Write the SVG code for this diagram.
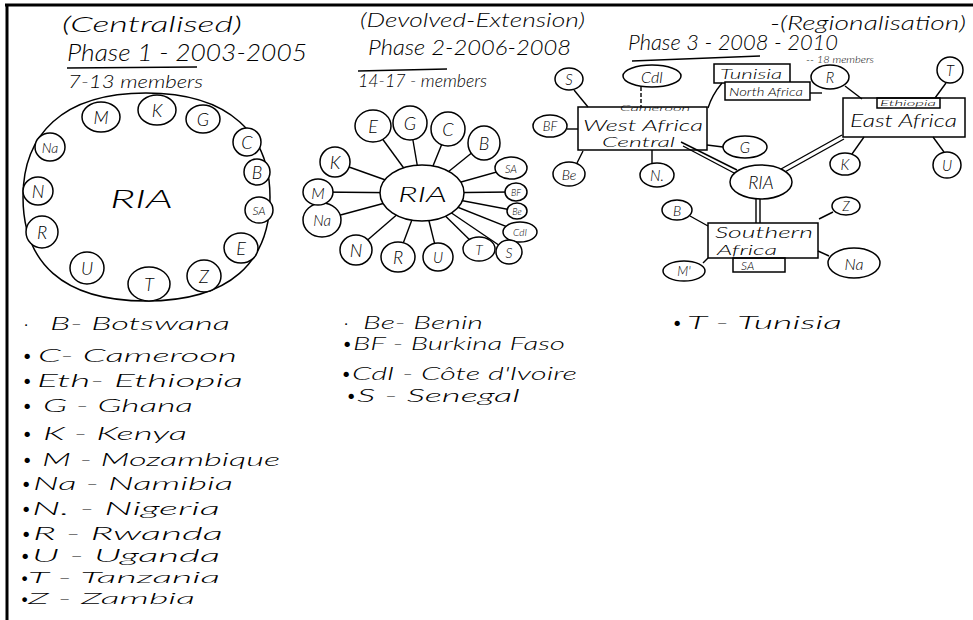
<svg xmlns="http://www.w3.org/2000/svg" width="973" height="620" viewBox="0 0 973 620">
<style>
text{font-family:Lato,"Liberation Sans",sans-serif;font-style:italic;font-weight:300;fill:#000}
.n{fill:#fff;stroke:#000;stroke-width:1.5}
.b{fill:none;stroke:#000;stroke-width:1.5}
.c{fill:none;stroke:#000;stroke-width:1.4}
.l{text-anchor:middle;dominant-baseline:central}
.h{font-size:22px}
.s{font-size:17px}
.g{font-size:18px}
.sm{font-size:16px}
</style>
<rect width="973" height="620" fill="#fff"/>
<g id="frame"><line x1="5" y1="5" x2="973" y2="5" stroke="#000" stroke-width="3"/><line x1="7" y1="4" x2="7" y2="620" stroke="#000" stroke-width="3"/></g>

<g id="headings">
<text x="62" y="32" class="h" textLength="180" lengthAdjust="spacingAndGlyphs">(Centralised)</text>
<text x="67" y="61" style="font-size:24px" textLength="240" lengthAdjust="spacingAndGlyphs">Phase 1 - 2003-2005</text>
<line x1="67" y1="68" x2="197" y2="67" class="c"/>
<text x="68" y="88" class="s" textLength="135" lengthAdjust="spacingAndGlyphs">7-13 members</text>
<text x="360" y="27" style="font-size:19px" textLength="225" lengthAdjust="spacingAndGlyphs">(Devolved-Extension)</text>
<text x="368" y="55" style="font-size:21px" textLength="203" lengthAdjust="spacingAndGlyphs">Phase 2-2006-2008</text>
<line x1="358" y1="71" x2="447" y2="69" class="c"/>
<text x="358" y="87" class="s" textLength="129" lengthAdjust="spacingAndGlyphs">14-17 - members</text>
<text x="770" y="30" style="font-size:20px" textLength="196" lengthAdjust="spacingAndGlyphs">-(Regionalisation)</text>
<text x="628" y="50" style="font-size:21px" textLength="210" lengthAdjust="spacingAndGlyphs">Phase 3 - 2008 - 2010</text>
<line x1="632" y1="61" x2="760" y2="56" class="c"/>
<text x="806" y="63" style="font-size:10px" textLength="68" lengthAdjust="spacingAndGlyphs">-- 18 members</text>
</g>

<g id="connectors">
<line x1="422" y1="193" x2="373" y2="126" class="c"/>
<line x1="422" y1="193" x2="410" y2="123" class="c"/>
<line x1="422" y1="193" x2="448" y2="129" class="c"/>
<line x1="422" y1="193" x2="484" y2="143" class="c"/>
<line x1="422" y1="193" x2="511" y2="168" class="c"/>
<line x1="422" y1="193" x2="516" y2="192" class="c"/>
<line x1="422" y1="193" x2="517" y2="211" class="c"/>
<line x1="422" y1="193" x2="520" y2="232" class="c"/>
<line x1="422" y1="193" x2="509" y2="252" class="c"/>
<line x1="422" y1="193" x2="479" y2="249" class="c"/>
<line x1="422" y1="193" x2="438" y2="257" class="c"/>
<line x1="422" y1="193" x2="398" y2="257" class="c"/>
<line x1="422" y1="193" x2="356" y2="250" class="c"/>
<line x1="422" y1="193" x2="322" y2="220" class="c"/>
<line x1="422" y1="193" x2="318" y2="192" class="c"/>
<line x1="422" y1="193" x2="335" y2="162" class="c"/>
<line x1="574" y1="90" x2="588" y2="107" class="c"/>
<line x1="641" y1="87" x2="641" y2="107" class="c" stroke-dasharray="4 2"/>
<path d="M722,83 Q712,95 708,108" class="c"/>
<line x1="567" y1="129" x2="578" y2="129" class="c"/>
<line x1="577" y1="163" x2="583" y2="151" class="c"/>
<line x1="652" y1="150" x2="652" y2="163" class="c"/>
<line x1="707" y1="145" x2="723" y2="147" class="c"/>
<line x1="681" y1="142" x2="737" y2="170" class="c"/>
<line x1="683" y1="146" x2="736" y2="174" class="c"/>
<line x1="842" y1="135" x2="781" y2="169" class="c"/>
<line x1="844" y1="139" x2="783" y2="173" class="c"/>
<line x1="756" y1="199" x2="756" y2="223" class="c"/>
<line x1="760" y1="199" x2="760" y2="223" class="c"/>
<line x1="845" y1="86" x2="862" y2="99" class="c"/>
<line x1="946" y1="83" x2="935" y2="98" class="c"/>
<line x1="864" y1="137" x2="852" y2="154" class="c"/>
<line x1="933" y1="137" x2="944" y2="152" class="c"/>
<line x1="690" y1="216" x2="708" y2="226" class="c"/>
<line x1="833" y1="212" x2="819" y2="219" class="c"/>
<line x1="703" y1="263" x2="708" y2="258" class="c"/>
<line x1="829" y1="256" x2="818" y2="251" class="c"/>
<line x1="810" y1="93" x2="822" y2="93" class="c"/>
</g>

<g id="phase1">
<path id="p1-ria" d="M146,93 C230,93 270,135 270,197 C270,262 230,301 146,301 C62,301 23,262 23,197 C23,135 62,93 146,93 Z" class="b"/>
<text x="110" y="208" style="font-size:26px" textLength="63" lengthAdjust="spacingAndGlyphs">RIA</text>
<g id="p1-M"><ellipse cx="101" cy="117" rx="19" ry="15" class="n"/><text x="101" y="117" class="l g">M</text></g>
<g id="p1-K"><ellipse cx="157" cy="110" rx="19" ry="15" class="n"/><text x="157" y="110" class="l g">K</text></g>
<g id="p1-G"><ellipse cx="203" cy="119" rx="17" ry="14" class="n"/><text x="203" y="119" class="l g">G</text></g>
<g id="p1-C"><ellipse cx="247" cy="142" rx="14" ry="14" class="n"/><text x="247" y="142" class="l g">C</text></g>
<g id="p1-B"><ellipse cx="257" cy="172" rx="13" ry="13" class="n"/><text x="257" y="172" class="l g">B</text></g>
<g id="p1-SA"><ellipse cx="259" cy="210" rx="14" ry="13" class="n"/><text x="259" y="210" class="l" style="font-size:12px">SA</text></g>
<g id="p1-E"><ellipse cx="241" cy="248" rx="17" ry="15" class="n"/><text x="241" y="248" class="l g">E</text></g>
<g id="p1-Z"><ellipse cx="204" cy="276" rx="17" ry="16" class="n"/><text x="204" y="276" class="l g">Z</text></g>
<g id="p1-T"><ellipse cx="149" cy="284" rx="21" ry="17" class="n"/><text x="149" y="284" class="l g">T</text></g>
<g id="p1-U"><ellipse cx="87" cy="268" rx="17" ry="16" class="n"/><text x="87" y="268" class="l g">U</text></g>
<g id="p1-R"><ellipse cx="42" cy="232" rx="16" ry="16" class="n"/><text x="42" y="232" class="l g">R</text></g>
<g id="p1-N"><ellipse cx="38" cy="191" rx="15" ry="14" class="n"/><text x="38" y="191" class="l g">N</text></g>
<g id="p1-Na"><ellipse cx="50" cy="147" rx="15" ry="14" class="n"/><text x="50" y="147" class="l" style="font-size:14px">Na</text></g>
</g>

<g id="phase2">
<g id="p2-RIA"><ellipse cx="422" cy="193" rx="42" ry="28" class="n"/><text x="398" y="202" style="font-size:22px" textLength="49" lengthAdjust="spacingAndGlyphs">RIA</text></g>
<g id="p2-E"><ellipse cx="373" cy="126" rx="18" ry="16" class="n"/><text x="373" y="126" class="l g">E</text></g>
<g id="p2-G"><ellipse cx="410" cy="123" rx="17" ry="17" class="n"/><text x="410" y="123" class="l g">G</text></g>
<g id="p2-C"><ellipse cx="448" cy="129" rx="17" ry="17" class="n"/><text x="448" y="129" class="l g">C</text></g>
<g id="p2-B"><ellipse cx="484" cy="143" rx="16" ry="17" class="n"/><text x="484" y="143" class="l g">B</text></g>
<g id="p2-SA"><ellipse cx="511" cy="168" rx="16" ry="11" class="n"/><text x="511" y="168" class="l" style="font-size:11px">SA</text></g>
<g id="p2-BF"><ellipse cx="516" cy="192" rx="11" ry="9" class="n"/><text x="516" y="192" class="l" style="font-size:9px">BF</text></g>
<g id="p2-Be"><ellipse cx="517" cy="211" rx="10" ry="8" class="n"/><text x="517" y="211" class="l" style="font-size:9px">Be</text></g>
<g id="p2-CdI"><ellipse cx="520" cy="232" rx="17" ry="10" class="n"/><text x="520" y="232" class="l" style="font-size:10px">CdI</text></g>
<g id="p2-S"><ellipse cx="509" cy="252" rx="13" ry="12" class="n"/><text x="509" y="252" class="l" style="font-size:14px">S</text></g>
<g id="p2-T"><ellipse cx="479" cy="249" rx="16" ry="12" class="n"/><text x="479" y="249" class="l" style="font-size:14px">T</text></g>
<g id="p2-U"><ellipse cx="438" cy="257" rx="15" ry="14" class="n"/><text x="438" y="257" class="l" style="font-size:15px">U</text></g>
<g id="p2-R"><ellipse cx="398" cy="257" rx="17" ry="15" class="n"/><text x="398" y="257" class="l g">R</text></g>
<g id="p2-N"><ellipse cx="356" cy="250" rx="16" ry="15" class="n"/><text x="356" y="250" class="l g">N</text></g>
<g id="p2-Na"><ellipse cx="322" cy="220" rx="19" ry="17" class="n"/><text x="322" y="220" class="l" style="font-size:15px">Na</text></g>
<g id="p2-M"><ellipse cx="318" cy="192" rx="15" ry="13" class="n"/><text x="318" y="192" class="l" style="font-size:16px">M</text></g>
<g id="p2-K"><ellipse cx="335" cy="162" rx="15" ry="15" class="n"/><text x="335" y="162" class="l g">K</text></g>
</g>

<g id="phase3">
<g id="p3-S"><ellipse cx="569" cy="79" rx="14" ry="11" class="n"/><text x="569" y="79" class="l" style="font-size:15px">S</text></g>
<g id="p3-CdI"><ellipse cx="652" cy="76" rx="29" ry="11" class="n"/><text x="652" y="76" class="l" style="font-size:16px">CdI</text></g>
<g id="p3-NorthAfrica"><rect x="714" y="64" width="76" height="19" class="b"/><rect x="725" y="82" width="85" height="18" class="n"/><text x="720" y="79" style="font-size:14px" textLength="62" lengthAdjust="spacingAndGlyphs">Tunisia</text><text x="729" y="96" style="font-size:12px" textLength="74" lengthAdjust="spacingAndGlyphs">North Africa</text></g>
<g id="p3-R"><ellipse cx="830" cy="77" rx="19" ry="12" class="n"/><text x="830" y="77" class="l" style="font-size:15px">R</text></g>
<g id="p3-T"><ellipse cx="950" cy="70" rx="13" ry="13" class="n"/><text x="950" y="70" class="l" style="font-size:15px">T</text></g>
<g id="p3-WestAfrica"><rect x="578" y="107" width="129" height="43" class="b"/><text x="620" y="111" style="font-size:8px" textLength="70" lengthAdjust="spacingAndGlyphs">Cameroon</text><text x="583" y="131" style="font-size:16px" textLength="120" lengthAdjust="spacingAndGlyphs">West Africa</text><text x="602" y="147" style="font-size:14px" textLength="73" lengthAdjust="spacingAndGlyphs">Central</text></g>
<g id="p3-BF"><ellipse cx="550" cy="126" rx="17" ry="11" class="n"/><text x="550" y="126" class="l" style="font-size:13px">BF</text></g>
<g id="p3-Be"><ellipse cx="569" cy="174" rx="16" ry="12" class="n"/><text x="569" y="174" class="l" style="font-size:14px">Be</text></g>
<g id="p3-N"><ellipse cx="657" cy="175" rx="17" ry="12" class="n"/><text x="657" y="175" class="l" style="font-size:15px">N.</text></g>
<g id="p3-G"><ellipse cx="745" cy="147" rx="22" ry="11" class="n"/><text x="745" y="147" class="l" style="font-size:15px">G</text></g>
<g id="p3-RIA"><ellipse cx="761" cy="182" rx="31" ry="17" class="n"/><text x="761" y="182" class="l" style="font-size:18px">RIA</text></g>
<g id="p3-EastAfrica"><rect x="843" y="98" width="122" height="39" class="b"/><rect x="877" y="98" width="63" height="10" class="b"/><text x="880" y="106" style="font-size:8px" textLength="56" lengthAdjust="spacingAndGlyphs">Ethiopia</text><text x="850" y="127" style="font-size:17px" textLength="107" lengthAdjust="spacingAndGlyphs">East Africa</text></g>
<g id="p3-K"><ellipse cx="845" cy="164" rx="15" ry="11" class="n"/><text x="845" y="164" class="l" style="font-size:15px">K</text></g>
<g id="p3-U"><ellipse cx="947" cy="165" rx="14" ry="13" class="n"/><text x="947" y="165" class="l" style="font-size:15px">U</text></g>
<g id="p3-Southern"><rect x="708" y="223" width="110" height="35" class="b"/><rect x="733" y="258" width="52" height="14" class="b"/><text x="715" y="238" style="font-size:16px" textLength="98" lengthAdjust="spacingAndGlyphs">Southern</text><text x="717" y="255" style="font-size:14px" textLength="60" lengthAdjust="spacingAndGlyphs">Africa</text><text x="741" y="270" style="font-size:12px">SA</text></g>
<g id="p3-B"><ellipse cx="677" cy="210" rx="15" ry="10" class="n"/><text x="677" y="210" class="l" style="font-size:14px">B</text></g>
<g id="p3-Z"><ellipse cx="846" cy="206" rx="14" ry="9" class="n"/><text x="846" y="206" class="l" style="font-size:13px">Z</text></g>
<g id="p3-M"><ellipse cx="684" cy="271" rx="21" ry="10" class="n"/><text x="684" y="271" class="l" style="font-size:13px">M'</text></g>
<g id="p3-Na"><ellipse cx="854" cy="263" rx="26" ry="15" class="n"/><text x="854" y="263" class="l" style="font-size:16px">Na</text></g>
</g>

<g id="legend" class="g">
<text x="24" y="330">·</text><text x="50" y="330" textLength="180" lengthAdjust="spacingAndGlyphs">B- Botswana</text>
<text x="22" y="362">•</text><text x="38" y="362" textLength="199" lengthAdjust="spacingAndGlyphs">C- Cameroon</text>
<text x="22" y="387">•</text><text x="37" y="387" textLength="206" lengthAdjust="spacingAndGlyphs">Eth- Ethiopia</text>
<text x="22" y="412">•</text><text x="43" y="412" textLength="150" lengthAdjust="spacingAndGlyphs">G - Ghana</text>
<text x="22" y="440">•</text><text x="43" y="440" textLength="144" lengthAdjust="spacingAndGlyphs">K - Kenya</text>
<text x="22" y="466">•</text><text x="42" y="466" textLength="238" lengthAdjust="spacingAndGlyphs">M - Mozambique</text>
<text x="21" y="490">•</text><text x="33" y="490" textLength="200" lengthAdjust="spacingAndGlyphs">Na - Namibia</text>
<text x="21" y="515">•</text><text x="32" y="515" textLength="188" lengthAdjust="spacingAndGlyphs">N. - Nigeria</text>
<text x="21" y="540">•</text><text x="33" y="540" textLength="190" lengthAdjust="spacingAndGlyphs">R - Rwanda</text>
<text x="20" y="562">•</text><text x="32" y="562" textLength="188" lengthAdjust="spacingAndGlyphs">U - Uganda</text>
<text x="20" y="583" class="sm">•</text><text x="28" y="583" class="sm" textLength="192" lengthAdjust="spacingAndGlyphs">T - Tanzania</text>
<text x="20" y="604" class="sm">•</text><text x="28" y="604" class="sm" textLength="167" lengthAdjust="spacingAndGlyphs">Z - Zambia</text>
<text x="344" y="329">·</text><text x="363" y="329" textLength="120" lengthAdjust="spacingAndGlyphs">Be- Benin</text>
<text x="342" y="350">•</text><text x="353" y="350" textLength="212" lengthAdjust="spacingAndGlyphs">BF - Burkina Faso</text>
<text x="341" y="380">•</text><text x="352" y="380" textLength="225" lengthAdjust="spacingAndGlyphs">CdI - Côte d'Ivoire</text>
<text x="346" y="402">•</text><text x="357" y="402" textLength="163" lengthAdjust="spacingAndGlyphs">S - Senegal</text>
<text x="672" y="329">•</text><text x="687" y="329" textLength="155" lengthAdjust="spacingAndGlyphs">T - Tunisia</text>
</g>
</svg>
